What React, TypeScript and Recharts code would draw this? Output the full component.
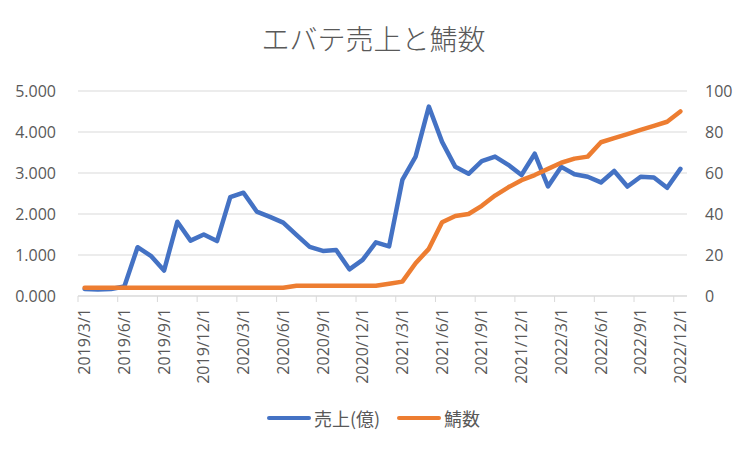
import { LineChart, Line, XAxis, YAxis, CartesianGrid, Legend, Text, Customized } from "recharts";

const months = [
  "2019/3/1", "2019/4/1", "2019/5/1", "2019/6/1", "2019/7/1", "2019/8/1",
  "2019/9/1", "2019/10/1", "2019/11/1", "2019/12/1", "2020/1/1", "2020/2/1",
  "2020/3/1", "2020/4/1", "2020/5/1", "2020/6/1", "2020/7/1", "2020/8/1",
  "2020/9/1", "2020/10/1", "2020/11/1", "2020/12/1", "2021/1/1", "2021/2/1",
  "2021/3/1", "2021/4/1", "2021/5/1", "2021/6/1", "2021/7/1", "2021/8/1",
  "2021/9/1", "2021/10/1", "2021/11/1", "2021/12/1", "2022/1/1", "2022/2/1",
  "2022/3/1", "2022/4/1", "2022/5/1", "2022/6/1", "2022/7/1", "2022/8/1",
  "2022/9/1", "2022/10/1", "2022/11/1", "2022/12/1",
];

// 売上(億)
const sales = [
  0.17, 0.16, 0.17, 0.23, 1.19, 0.98, 0.62, 1.81, 1.35, 1.5, 1.34, 2.41,
  2.52, 2.06, 1.93, 1.79, 1.49, 1.2, 1.1, 1.12, 0.65, 0.88, 1.31, 1.21,
  2.83, 3.4, 4.62, 3.76, 3.15, 2.98, 3.29, 3.4, 3.2, 2.95, 3.47, 2.67,
  3.15, 2.97, 2.91, 2.77, 3.05, 2.67, 2.91, 2.89, 2.64, 3.1,
];

// 鯖数
const servers = [
  4, 4, 4, 4, 4, 4, 4, 4, 4, 4, 4, 4,
  4, 4, 4, 4, 5, 5, 5, 5, 5, 5, 5, 6,
  7, 16, 23, 36, 39, 40, 44, 49, 53, 56.5, 59, 62,
  65, 67, 68, 75, 77, 79, 81, 83, 85, 90,
];

const monthTicks = [0, 3, 6, 9, 12, 15, 18, 21, 24, 27, 30, 33, 36, 39, 42, 45];
const salesTicks = [0, 1, 2, 3, 4, 5];
const serverTicks = [0, 10, 20, 30, 40, 50, 60, 70, 80, 90, 100];

const W = 747;
const H = 450;
const LEFT_W = 78;
const RIGHT_W = 60;
const SLOT = (W - LEFT_W - RIGHT_W) / months.length;

const BLUE = "#4472C4";
const ORANGE = "#ED7D31";
const GRID = "#d9d9d9";
const FRAME = "#d0d0d0";
const INK = "#595959";
const NUM_FONT = "'Open Sans', 'Noto Sans CJK JP', sans-serif";
const JP_FONT = "'Noto Sans CJK JP', 'Open Sans', sans-serif";

// each month sits in the middle of its slot
const rows = months.map((m, i) => ({ x: i + 0.5, month: m, sales: sales[i], servers: servers[i] }));

const MonthTick = (props: any) => {
  const { x, y, payload } = props;
  return (
    <Text
      x={x + SLOT / 2}
      y={y}
      angle={-90}
      textAnchor="end"
      verticalAnchor="middle"
      fill={INK}
      fontSize={16}
      fontFamily={NUM_FONT}
    >
      {months[payload.value]}
    </Text>
  );
};

const LegendBox = (props: any) => {
  const items = props.payload || [];
  return (
    <div style={{ display: "flex", justifyContent: "center", alignItems: "center", height: 24 }}>
      {items.map((it: any, i: number) => (
        <div key={i} style={{ display: "flex", alignItems: "center", marginLeft: i ? 17 : 0 }}>
          <span style={{ width: 44, height: 4.5, borderRadius: 3, background: it.color, marginRight: 3 }} />
          <span style={{ fontFamily: JP_FONT, fontSize: 18, color: INK, lineHeight: "24px" }}>{it.value}</span>
        </div>
      ))}
    </div>
  );
};

// chart-area frame, drawn inside the svg
const Frame = () => (
  <rect x={1.5} y={1.5} width={W - 4} height={H - 4} fill="none" stroke={FRAME} strokeWidth={1.5} />
);

export default function App() {
  return (
    <div style={{ position: "relative", width: W, height: H, margin: -8, background: "#fff" }}>
      <div
        style={{
          position: "absolute",
          top: 20,
          left: 0,
          width: W,
          textAlign: "center",
          fontFamily: JP_FONT,
          fontWeight: 300,
          fontSize: 28,
          lineHeight: "36px",
          color: INK,
          zIndex: 2,
        }}
      >
        エバテ売上と鯖数
      </div>

      <LineChart width={W} height={H} data={rows} margin={{ top: 91, right: 0, left: 0, bottom: 0 }}>
        <Customized component={Frame} />
        <CartesianGrid yAxisId="left" vertical={false} stroke={GRID} />
        <XAxis
          dataKey="x"
          type="number"
          domain={[0, months.length]}
          ticks={monthTicks}
          interval={0}
          height={130}
          stroke={GRID}
          tickSize={6}
          tickMargin={6}
          tick={<MonthTick />}
        />
        <YAxis
          yAxisId="left"
          domain={[0, 5]}
          ticks={salesTicks}
          width={LEFT_W}
          axisLine={false}
          tickLine={false}
          tickSize={6}
          tickMargin={16}
          tickFormatter={(v: number) => v.toFixed(3)}
          tick={{ fill: INK, fontSize: 16, fontFamily: NUM_FONT }}
        />
        <YAxis
          yAxisId="right"
          orientation="right"
          domain={[0, 100]}
          ticks={serverTicks}
          width={RIGHT_W}
          axisLine={false}
          tickLine={false}
          tickSize={6}
          tickMargin={12}
          tick={{ fill: INK, fontSize: 16, fontFamily: NUM_FONT, textAnchor: "start" }}
        />
        <Legend
          verticalAlign="bottom"
          content={<LegendBox />}
          wrapperStyle={{ top: 406, bottom: "auto", left: 0, width: W, height: 24 }}
        />
        <Line
          yAxisId="left"
          type="linear"
          dataKey="sales"
          name="売上(億)"
          stroke={BLUE}
          strokeWidth={4.5}
          strokeLinejoin="round"
          strokeLinecap="round"
          dot={false}
          activeDot={false}
          isAnimationActive={false}
        />
        <Line
          yAxisId="right"
          type="linear"
          dataKey="servers"
          name="鯖数"
          stroke={ORANGE}
          strokeWidth={4.5}
          strokeLinejoin="round"
          strokeLinecap="round"
          dot={false}
          activeDot={false}
          isAnimationActive={false}
        />
      </LineChart>
    </div>
  );
}
